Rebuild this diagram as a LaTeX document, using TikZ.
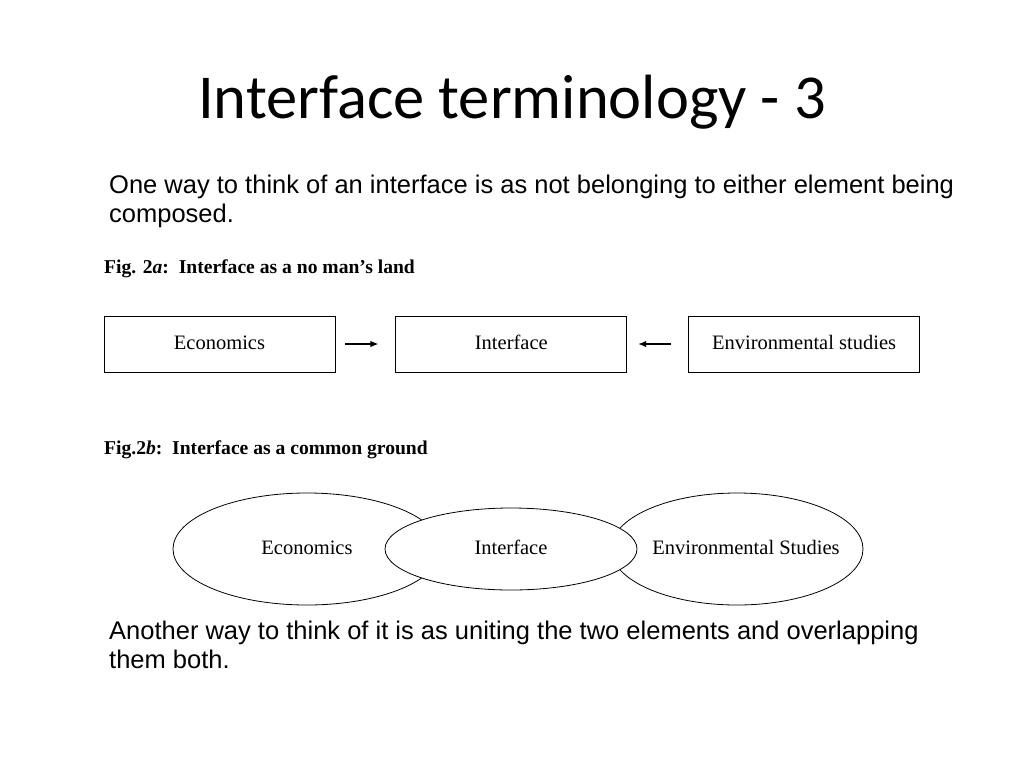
\documentclass[tikz,border=0pt]{standalone}
\usepackage{fontspec}
\setmainfont{Liberation Serif}
\newfontfamily\titlefont{Carlito}
\newfontfamily\bodyfont{Liberation Sans}
\usetikzlibrary{positioning,shapes.geometric,arrows.meta}
\tikzset{
  figbox/.style={draw,line width=0.8pt,minimum width=231pt,minimum height=56pt,
    inner sep=0pt,text height=14pt,text depth=4pt,font=\fontsize{20.5}{22}\selectfont},
  figoval/.style={draw,ellipse,line width=0.8pt,inner sep=-20pt,
    text height=14pt,text depth=4pt,font=\fontsize{20.5}{22}\selectfont},
  figcap/.style={anchor=base west,inner sep=0pt,font=\fontsize{19.6}{22}\selectfont\bfseries},
  bodytext/.style={anchor=north west,inner sep=0pt,align=left,
    font=\bodyfont\fontsize{25.5}{29}\selectfont},
  linkarrow/.style={-{Latex[length=8pt,width=6.5pt]},line width=1.2pt},
}
\begin{document}
\begin{tikzpicture}[x=1pt,y=-1pt]
    \useasboundingbox (0,0) rectangle (1024,768);

    \path
    (512,118) node[anchor=base,inner sep=0pt,font=\titlefont\fontsize{62.5}{70}\selectfont]
      (title) {Interface terminology - 3}
    (109,175) node[bodytext] (intro) {One way to think of an interface is as not belonging to either element being\\composed.}
    ;

    % Fig. 2a
    \path (104,273) node[figcap] (capa) {Fig. 2\textit{a}:\ \ Interface as a no man's land};
    \path (219.5,344) node[figbox] (econ) {Economics};
    \node[figbox,right=60pt of econ] (iface) {Interface};
    \node[figbox,right=61pt of iface] (envir) {Environmental studies};
    \draw[linkarrow,shorten <=10pt,shorten >=17pt] (econ) -- (iface);
    \draw[linkarrow,shorten <=17pt,shorten >=11pt] (envir) -- (iface);

    % Fig. 2b
    \path (104,454) node[figcap] (capb) {Fig.2\textit{b}:\ \ Interface as a common ground};
    \path
    (307,549) node[figoval,minimum width=268pt,minimum height=112pt] (econ2) {Economics}
    (737,549) node[figoval,minimum width=252pt,minimum height=112pt] (envir2) {\hspace{18pt}Environmental Studies}
    (511,549) node[figoval,fill=white,minimum width=252pt,minimum height=82pt] (iface2) {Interface}
    ;

    \path (109,621) node[bodytext] (outro) {Another way to think of it is as uniting the two elements and overlapping\\them both.};
\end{tikzpicture}
\end{document}
